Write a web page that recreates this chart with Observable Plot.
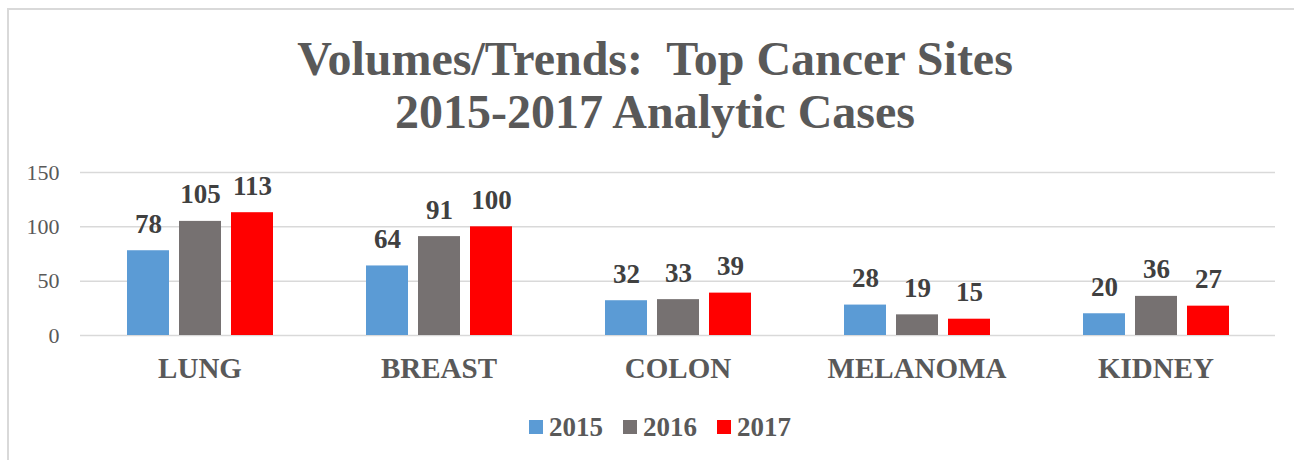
<!DOCTYPE html>
<html>
<head>
<meta charset="utf-8">
<script src="https://cdn.jsdelivr.net/npm/d3@7"></script>
<script src="https://cdn.jsdelivr.net/npm/@observablehq/plot@0.6"></script>
<style>
  html, body { margin: 0; padding: 0; background: #ffffff; }
  #wrap { position: relative; width: 1294px; height: 460px; overflow: hidden; font-family: "Liberation Serif", "Times New Roman", serif; }
  #frame { position: absolute; left: 7px; top: 8px; width: 1400px; height: 600px; border-left: 2px solid #d9d9d9; border-top: 2px solid #d9d9d9; }
  #title { position: absolute; left: 0; top: 32px; width: 1310px; text-align: center; font-size: 48px; font-weight: bold; line-height: 53px; color: #595959; }
  #grid, #chart { position: absolute; left: 0; top: 140px; }
  #legend { position: absolute; left: 0; top: 411px; width: 1320px; display: flex; justify-content: center; align-items: center; font-size: 27px; font-weight: bold; color: #595959; line-height: 32px; }
  .item { display: flex; align-items: center; margin: 0 10px; }
  .sw { width: 14px; height: 14px; margin-right: 6px; }
</style>
</head>
<body>
<div id="wrap">
  <div id="frame"></div>
  <div id="title"></div>
  <div id="grid"></div>
  <div id="chart"></div>
  <div id="legend"></div>
</div>
<script>
const titleLines = ["Volumes/Trends:\u00a0 Top Cancer Sites", "2015-2017 Analytic Cases"];
const categories = ["LUNG", "BREAST", "COLON", "MELANOMA", "KIDNEY"];
const years = ["2015", "2016", "2017"];
const values2015 = [78, 64, 32, 28, 20];
const values2016 = [105, 91, 33, 19, 36];
const values2017 = [113, 100, 39, 15, 27];
const colors = ["#5B9BD5", "#767171", "#FF0000"];
const yTicks = [0, 50, 100, 150];

const series = [values2015, values2016, values2017];
const data = categories.flatMap((c, i) => years.map((y, j) => ({category: c, year: y, value: series[j][i]})));

d3.select("#title").selectAll("div").data(titleLines).join("div").text(d => d);

const common = {
  width: 1294,
  height: 260,
  marginTop: 32,
  marginBottom: 65,
  marginLeft: 80,
  marginRight: 19,
  style: {fontFamily: "'Liberation Serif', 'Times New Roman', serif", background: "transparent"}
};

// Background: gridlines and y axis across the whole plot width
const gridPlot = Plot.plot({
  ...common,
  y: {domain: [0, 150], label: null},
  marks: [
    Plot.ruleY(yTicks, {stroke: "#d9d9d9", strokeWidth: 1.5}),
    Plot.axisY({ticks: yTicks, tickSize: 0, tickPadding: 21, fontSize: 22, color: "#595959", label: null})
  ]
});
document.getElementById("grid").appendChild(gridPlot);

// Foreground: grouped bars faceted by category
const plot = Plot.plot({
  ...common,
  fx: {domain: categories, paddingInner: 0.385, paddingOuter: 0.1925, label: null},
  x: {domain: years, paddingInner: 0.2, paddingOuter: 0, axis: null},
  y: {domain: [0, 150], label: null, axis: null},
  color: {domain: years, range: colors},
  marks: [
    Plot.axisFx({anchor: "bottom", tickSize: 0, tickPadding: 22, fontSize: 29, fontWeight: "bold", color: "#595959", label: null}),
    Plot.barY(data, {fx: "category", x: "year", y: "value", fill: "year"}),
    Plot.text(data, {fx: "category", x: "year", y: "value", text: d => String(d.value), lineAnchor: "bottom", dy: -18, fontSize: 27, fontWeight: "bold", fill: "#404040"})
  ]
});
document.getElementById("chart").appendChild(plot);

const leg = d3.select("#legend").selectAll("div").data(years).join("div").attr("class", "item");
leg.append("div").attr("class", "sw").style("background", (d, i) => colors[i]);
leg.append("span").text(d => d);
</script>
</body>
</html>
